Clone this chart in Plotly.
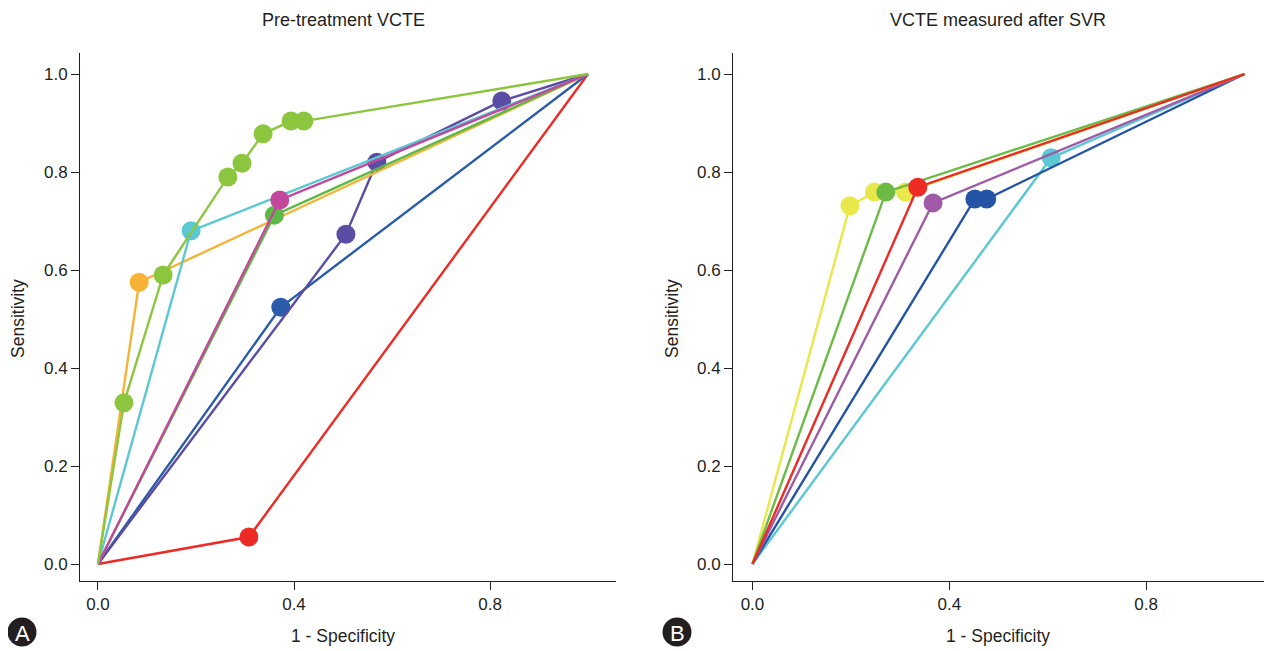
import plotly.graph_objects as go

# ---------------- data: panel A (pre-treatment VCTE) ----------------
a_lightgreen_x = [0, 0.053, 0.133, 0.265, 0.294, 0.337, 0.394, 0.42, 1]
a_lightgreen_y = [0, 0.329, 0.59, 0.79, 0.818, 0.878, 0.904, 0.904, 1]
a_green_x = [0, 0.36, 1]
a_green_y = [0, 0.712, 1]
a_orange_x = [0, 0.084, 1]
a_orange_y = [0, 0.575, 1]
a_cyan_x = [0, 0.19, 1]
a_cyan_y = [0, 0.68, 1]
a_magenta_x = [0, 0.371, 1]
a_magenta_y = [0, 0.743, 1]
a_purple_x = [0, 0.506, 0.569, 0.824, 1]
a_purple_y = [0, 0.673, 0.82, 0.945, 1]
a_blue_x = [0, 0.373, 1]
a_blue_y = [0, 0.524, 1]
a_red_x = [0, 0.308, 1]
a_red_y = [0, 0.055, 1]

# ---------------- data: panel B (VCTE measured after SVR) ----------------
b_cyan_x = [0, 0.607, 1]
b_cyan_y = [0, 0.829, 1]
b_blue_x = [0, 0.452, 0.476, 1]
b_blue_y = [0, 0.745, 0.745, 1]
b_purple_x = [0, 0.367, 1]
b_purple_y = [0, 0.737, 1]
b_yellow_x = [0, 0.198, 0.248, 0.311, 1]
b_yellow_y = [0, 0.731, 0.759, 0.759, 1]
b_green_x = [0, 0.271, 1]
b_green_y = [0, 0.759, 1]
b_red_x = [0, 0.336, 1]
b_red_y = [0, 0.769, 1]

tick_vals = [0.0, 0.4, 0.8]
tick_text = ["0.0", "0.4", "0.8"]
ytick_vals = [0.0, 0.2, 0.4, 0.6, 0.8, 1.0]
ytick_text = ["0.0", "0.2", "0.4", "0.6", "0.8", "1.0"]

titles = ["Pre-treatment VCTE", "VCTE measured after SVR"]
xlabel = "1 - Specificity"
ylabel = "Sensitivity"
panel_labels = ["A", "B"]

FONT = "Liberation Sans, Arial, sans-serif"
TXT = "#231F20"
OFF = 8  # page body offset

fig = go.Figure()

def add(x, y, color, xa, ya):
    fig.add_trace(go.Scatter(
        x=x, y=y, mode="lines+markers", xaxis=xa, yaxis=ya,
        line=dict(color=color, width=2.4),
        marker=dict(color=color, size=[0] + [19] * (len(x) - 2) + [0],
                    symbol="circle", opacity=1, line=dict(width=0)),
        opacity=1, showlegend=False, hoverinfo="x+y"))

# panel A
add(a_red_x, a_red_y, "#EE2A24", "x", "y")
add(a_blue_x, a_blue_y, "#2B5CAA", "x", "y")
add(a_purple_x, a_purple_y, "#5A4DA3", "x", "y")
add(a_orange_x, a_orange_y, "#F6B335", "x", "y")
add(a_cyan_x, a_cyan_y, "#5BC8D3", "x", "y")
add(a_green_x, a_green_y, "#5DB946", "x", "y")
add(a_magenta_x, a_magenta_y, "#C4479E", "x", "y")
add(a_lightgreen_x, a_lightgreen_y, "#8CC63F", "x", "y")

# panel B
add(b_cyan_x, b_cyan_y, "#5BC8D3", "x2", "y2")
add(b_blue_x, b_blue_y, "#2554A6", "x2", "y2")
add(b_purple_x, b_purple_y, "#A05BA8", "x2", "y2")
add(b_yellow_x, b_yellow_y, "#E8E84A", "x2", "y2")
add(b_green_x, b_green_y, "#6BBB45", "x2", "y2")
add(b_red_x, b_red_y, "#EE2A24", "x2", "y2")

W, H = 1272, 651
ML = 80 - OFF
MT = 53 - OFF
PLOT_BOTTOM = 581 - OFF
PLOT_RIGHT = 1269 - OFF
MB = H - PLOT_BOTTOM
MR = W - PLOT_RIGHT
PW = W - ML - MR
PH = H - MT - MB

axis_common = dict(showgrid=False, zeroline=False, showline=True,
                   linecolor="#231F20", linewidth=1, mirror=False,
                   ticks="outside", ticklen=8, tickwidth=1, tickcolor="#231F20",
                   tickfont=dict(family=FONT, size=17, color=TXT))

fig.update_layout(
    width=W, height=H,
    margin=dict(l=ML, r=MR, t=MT, b=MB),
    paper_bgcolor="white", plot_bgcolor="white",
    xaxis=dict(domain=[0, (616 - 80) / PW], range=[-0.0367, 1.0571],
               tickvals=tick_vals, ticktext=tick_text, anchor="y", **axis_common),
    yaxis=dict(domain=[0, 1], range=[-0.0347, 1.0429],
               tickvals=ytick_vals, ticktext=ytick_text, anchor="x", **axis_common),
    xaxis2=dict(domain=[(733 - 80) / PW, 1], range=[-0.0396, 1.0498],
                tickvals=tick_vals, ticktext=tick_text, anchor="y2", **axis_common),
    yaxis2=dict(domain=[0, 1], range=[-0.0347, 1.0429],
                tickvals=ytick_vals, ticktext=ytick_text, anchor="x2", **axis_common),
)

def py(ref_y):
    """reference pixel y -> paper y"""
    return (PLOT_BOTTOM - (ref_y - OFF)) / PH

def px(ref_x):
    return ((ref_x - OFF) - ML) / PW

ann = []
for i, (xr, yr) in enumerate([("x", "y"), ("x2", "y2")]):
    ann.append(dict(text=titles[i], xref=xr, x=0.5, yref="paper",
                    y=py(20), showarrow=False,
                    font=dict(family=FONT, size=18, color=TXT),
                    xanchor="center", yanchor="middle"))
    ann.append(dict(text=xlabel, xref=xr, x=0.5, yref="paper",
                    y=py(636), showarrow=False,
                    font=dict(family=FONT, size=17.5, color=TXT),
                    xanchor="center", yanchor="middle"))
fig.update_layout(annotations=ann)

# y titles (rotated)
for rx in [18, 672]:
    fig.add_annotation(text=ylabel, xref="paper", x=px(rx), yref="y",
                       y=0.5, showarrow=False, textangle=-90,
                       font=dict(family=FONT, size=17.5, color=TXT),
                       xanchor="center", yanchor="middle")

# circled panel labels
for lab, cx in zip(panel_labels, [22, 677]):
    fig.add_shape(type="circle", xref="paper", yref="paper",
                  xsizemode="pixel", ysizemode="pixel",
                  xanchor=px(cx), yanchor=py(632),
                  x0=-14.5, x1=14.5, y0=-14.5, y1=14.5,
                  fillcolor="#231F20", line=dict(width=0))
    fig.add_annotation(text=lab, xref="paper", yref="paper",
                       x=px(cx), y=py(633),
                       showarrow=False, xanchor="center", yanchor="middle",
                       font=dict(family=FONT, size=22, color="white"))

fig.write_html("out.html")
